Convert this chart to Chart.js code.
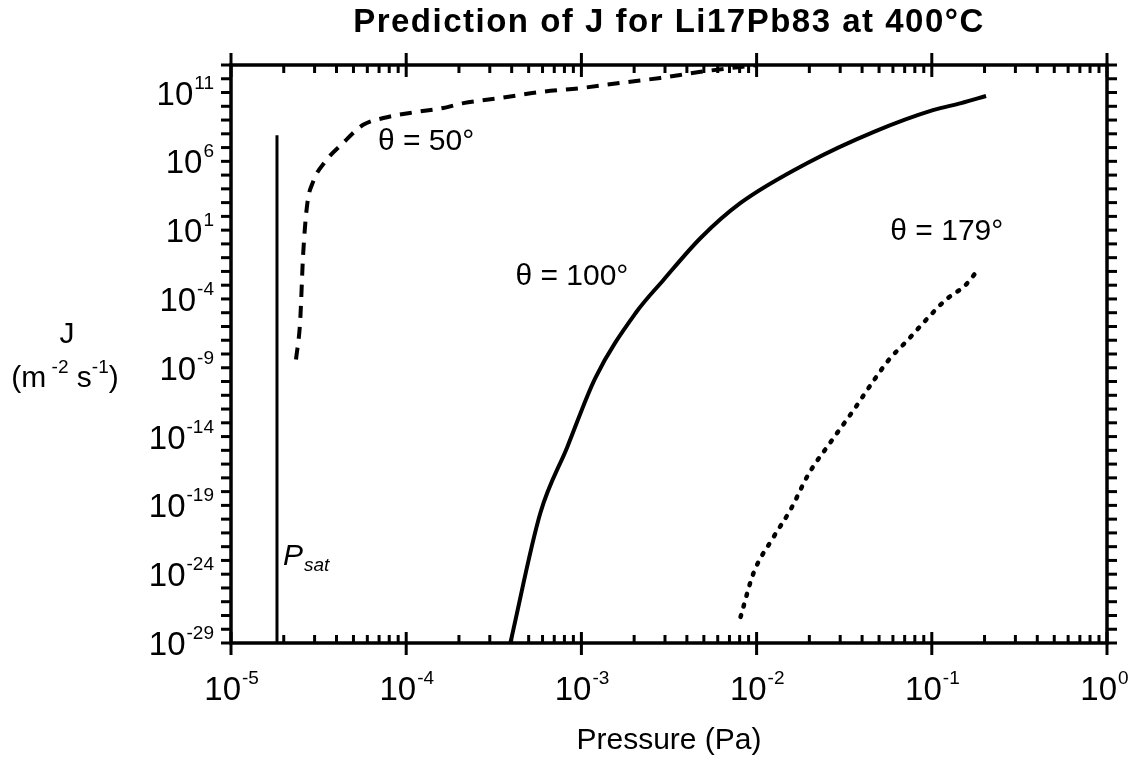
<!DOCTYPE html>
<html>
<head>
<meta charset="utf-8">
<script src="https://cdn.jsdelivr.net/npm/chart.js@4.4.1/dist/chart.umd.min.js"></script>
<style>
  html, body { margin: 0; background: #fff; }
  #wrap { width: 1141px; height: 759px; position: relative; }
</style>
</head>
<body>
<div id="wrap"><canvas id="chartArea"></canvas></div>
<script>
// theta = 50 deg (dashed)
var pressure50 = [2.35e-5, 2.48e-5, 2.58e-5, 2.72e-5, 2.94e-5, 3.44e-5, 4.37e-5, 5.68e-5, 7.4e-5, 1.05e-4,
                  1.63e-4, 2.12e-4, 3.44e-4, 5.83e-4, 9.9e-4, 1.67e-3, 2.82e-3, 4.8e-3, 1e-2];
var flux50 = [4e-9, 2.1e-6, 0.16, 680, 3.2e4, 9.1e5, 2.2e7, 4.5e8, 1.4e9, 3.3e9,
              7.6e9, 1.7e10, 4e10, 1.1e11, 2.1e11, 5e11, 1.15e12, 3.2e12, 1e13];

// theta = 100 deg (solid)
var pressure100 = [3.93e-4, 5.83e-4, 8.3e-4, 1.2e-3, 2.04e-3, 2.94e-3, 4.79e-3, 8.1e-3, 1.95e-2, 4.67e-2,
                   0.1026, 0.147, 0.204];
var flux100 = [1e-29, 2.8e-20, 1.7e-15, 1.8e-10, 9.5e-6, 2.4e-3, 2.7, 950, 7.6e5, 1.4e8,
               5.5e9, 1.7e10, 5.6e10];

// theta = 179 deg (dotted)
var pressure179 = [8.1e-3, 9.6e-3, 1.25e-2, 1.56e-2, 1.98e-2, 2.65e-2, 3.58e-2, 4.6e-2, 5.68e-2, 7.3e-2,
                   9.5e-2, 0.12, 0.156, 0.178];
var flux179 = [7.8e-28, 1.2e-24, 5e-22, 4.7e-20, 1.9e-17, 4.1e-15, 8.5e-13, 9.3e-11, 3.7e-9, 1.05e-7,
               4.2e-6, 8.5e-5, 1.05e-3, 7.9e-3];

// saturation pressure line
var pressureSat = [1.83e-5, 1.83e-5];
var fluxSat = [1e-29, 8e7];

// axis decades
var xTickExps = [-5, -4, -3, -2, -1, 0];
var yTickExps = [-29, -24, -19, -14, -9, -4, 1, 6, 11];
var yMin = 1e-29, yMax = 1e13;

var title = 'Prediction of J for Li17Pb83 at 400\u00B0C';

function pts(xs, ys) {
    return xs.map(function (v, i) { return { x: v, y: ys[i] }; });
}

var FONT = '"Liberation Sans", Arial, Helvetica, sans-serif';

// draws "10" with a raised exponent
function drawPow(ctx, exp, x, y, align) {
    ctx.font = '33px ' + FONT;
    var wb = ctx.measureText('10').width;
    ctx.font = '19px ' + FONT;
    var we = ctx.measureText(exp).width;
    var left = align === 'right' ? x - wb - we : x - wb;
    ctx.textAlign = 'left';
    ctx.textBaseline = 'alphabetic';
    ctx.font = '33px ' + FONT;
    ctx.fillText('10', left, y);
    ctx.font = '19px ' + FONT;
    ctx.fillText(exp, left + wb + 1, y - 16);
}

function line(ctx, x1, y1, x2, y2) {
    ctx.beginPath();
    ctx.moveTo(x1, y1);
    ctx.lineTo(x2, y2);
    ctx.stroke();
}

var frame = {
    id: 'frame',
    afterDatasetsDraw: function (chart) {
        var ctx = chart.ctx, a = chart.chartArea;
        var xs = chart.scales.x, ys = chart.scales.y;
        ctx.save();
        ctx.strokeStyle = '#000';
        ctx.fillStyle = '#000';
        ctx.lineCap = 'butt';

        ctx.lineWidth = 3.5;
        ctx.strokeRect(a.left, a.top, a.right - a.left, a.bottom - a.top);

        // x ticks, top and bottom
        ctx.lineWidth = 3;
        xTickExps.forEach(function (e) {
            var px = xs.getPixelForValue(Math.pow(10, e));
            line(ctx, px, a.bottom - 11, px, a.bottom + 12);
            line(ctx, px, a.top - 12, px, a.top + 12);
            if (e < 0) {
                for (var m = 2; m <= 9; m++) {
                    var mx = xs.getPixelForValue(m * Math.pow(10, e));
                    line(ctx, mx, a.bottom - 8, mx, a.bottom);
                    line(ctx, mx, a.top, mx, a.top + 8);
                }
            }
            drawPow(ctx, String(e), px + 10, 700, 'left');
        });

        // y ticks, every decade on both sides
        for (var e = Math.log10(yMin); e <= Math.log10(yMax); e++) {
            var py = ys.getPixelForValue(Math.pow(10, e));
            line(ctx, a.left - 10, py, a.left, py);
            line(ctx, a.right, py, a.right + 10, py);
        }
        yTickExps.forEach(function (e) {
            var py = ys.getPixelForValue(Math.pow(10, e));
            drawPow(ctx, String(e), 213, py + 12, 'right');
        });

        // title
        ctx.textAlign = 'center';
        ctx.textBaseline = 'alphabetic';
        ctx.font = 'bold 33px ' + FONT;
        ctx.letterSpacing = '1.5px';
        ctx.fillText(title, (a.left + a.right) / 2, 32);
        ctx.letterSpacing = '0px';

        // x axis title
        ctx.font = '30px ' + FONT;
        ctx.fillText('Pressure (Pa)', (a.left + a.right) / 2, 749);

        // y axis title
        ctx.fillText('J', 67, 343);
        var parts = [['(m', 30, 0], [' -2', 19, -14], [' s', 30, 0], ['-1', 19, -14], [')', 30, 0]];
        var total = 0;
        parts.forEach(function (p) { ctx.font = p[1] + 'px ' + FONT; total += ctx.measureText(p[0]).width; });
        var cx = 65 - total / 2;
        ctx.textAlign = 'left';
        parts.forEach(function (p) {
            ctx.font = p[1] + 'px ' + FONT;
            ctx.fillText(p[0], cx, 387 + p[2]);
            cx += ctx.measureText(p[0]).width;
        });

        // curve labels
        ctx.font = '30px ' + FONT;
        ctx.textBaseline = 'middle';
        ctx.fillText('\u03B8 = 50\u00B0', xs.getPixelForValue(6.9e-5), ys.getPixelForValue(2.6e7));
        ctx.fillText('\u03B8 = 100\u00B0', xs.getPixelForValue(4.2e-4), ys.getPixelForValue(4e-3));
        ctx.fillText('\u03B8 = 179\u00B0', xs.getPixelForValue(5.8e-2), ys.getPixelForValue(7.4));

        // P_sat label
        ctx.textBaseline = 'alphabetic';
        ctx.font = 'italic 30px ' + FONT;
        var px0 = xs.getPixelForValue(1.98e-5);
        var pBase = ys.getPixelForValue(5e-24);
        ctx.fillText('P', px0, pBase);
        var pw = ctx.measureText('P').width;
        ctx.font = 'italic 19px ' + FONT;
        ctx.fillText('sat', px0 + pw + 1, pBase + 6);

        ctx.restore();
    }
};

var ctx = document.getElementById('chartArea').getContext('2d');
var myChart = new Chart(ctx, {
    type: 'scatter',
    data: {
        datasets: [{
            label: 'theta = 50',
            data: pts(pressure50, flux50),
            showLine: true,
            borderColor: '#000',
            borderWidth: 4,
            borderDash: [12, 9],
            cubicInterpolationMode: 'monotone',
            pointRadius: 0
        }, {
            label: 'theta = 100',
            data: pts(pressure100, flux100),
            showLine: true,
            borderColor: '#000',
            borderWidth: 4,
            cubicInterpolationMode: 'monotone',
            pointRadius: 0
        }, {
            label: 'theta = 179',
            data: pts(pressure179, flux179),
            showLine: true,
            borderColor: '#000',
            borderWidth: 4.5,
            borderDash: [2, 9],
            borderCapStyle: 'round',
            cubicInterpolationMode: 'monotone',
            pointRadius: 0
        }, {
            label: 'Psat',
            data: pts(pressureSat, fluxSat),
            showLine: true,
            borderColor: '#000',
            borderWidth: 3,
            pointRadius: 0
        }]
    },
    options: {
        responsive: true,
        maintainAspectRatio: false,
        animation: false,
        layout: { padding: { left: 231, right: 34, top: 65, bottom: 116 } },
        plugins: {
            legend: { display: false },
            tooltip: { enabled: false }
        },
        scales: {
            x: {
                type: 'logarithmic',
                min: 1e-5,
                max: 1,
                display: false
            },
            y: {
                type: 'logarithmic',
                min: yMin,
                max: yMax,
                display: false
            }
        }
    },
    plugins: [frame]
});
</script>
</body>
</html>
